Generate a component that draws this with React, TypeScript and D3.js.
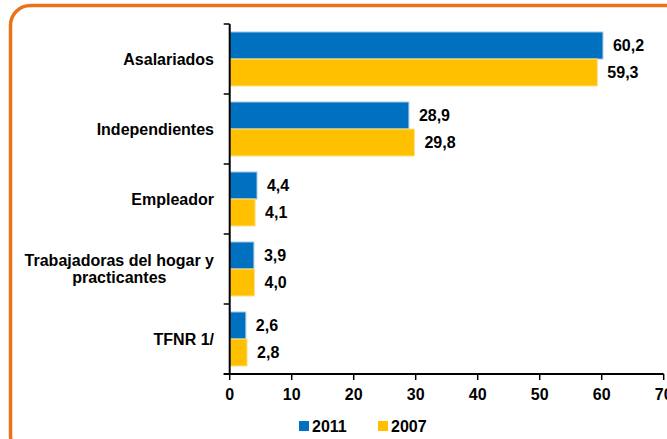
import * as d3 from 'd3';
import { useRef, useEffect } from 'react';

const categories = ['Asalariados', 'Independientes', 'Empleador', 'Trabajadoras del hogar y\npracticantes', 'TFNR 1/'];
const series = ['2011', '2007'];
const values2011 = [60.2, 28.9, 4.4, 3.9, 2.6];
const values2007 = [59.3, 29.8, 4.1, 4.0, 2.8];
const xTicks = [0, 10, 20, 30, 40, 50, 60, 70];

const colors = { '2011': '#0070C0', '2007': '#FFC000' };
const edges = { '2011': '#9fc4ea', '2007': '#ffe08c' };

export default function App() {
  const ref = useRef<SVGSVGElement>(null);

  useEffect(() => {
    const width = 667;
    const height = 439;
    const font = '"Liberation Sans", Arial, sans-serif';

    const svg = d3.select(ref.current)
      .attr('width', width)
      .attr('height', height);
    svg.selectAll('*').remove();

    // orange rounded frame, running off the right and bottom edges
    svg.append('rect')
      .attr('x', 10.5)
      .attr('y', 5.5)
      .attr('width', 700)
      .attr('height', 450)
      .attr('rx', 20)
      .attr('fill', 'white')
      .attr('stroke', '#E8731A')
      .attr('stroke-width', 3.5);

    const x = d3.scaleLinear().domain([0, 70]).range([229.7, 663.7]);
    const y = d3.scaleBand().domain(categories).range([24, 374]).padding(0);
    const ySub = d3.scaleBand().domain(series).range([8, y.bandwidth() - 8]).padding(0);

    const rows = categories.map((c, i) => ({ cat: c, '2011': values2011[i], '2007': values2007[i] }));

    const g = svg.append('g');

    // bars
    series.forEach(s => {
      g.selectAll(`rect.b${s}`)
        .data(rows)
        .enter().append('rect')
        .attr('x', x(0))
        .attr('y', d => y(d.cat)! + ySub(s)!)
        .attr('width', d => x(d[s]) - x(0))
        .attr('height', ySub.bandwidth())
        .attr('fill', colors[s])
        .attr('stroke', edges[s])
        .attr('stroke-width', 1);

      g.selectAll(`text.l${s}`)
        .data(rows)
        .enter().append('text')
        .attr('x', d => x(d[s]) + 10)
        .attr('y', d => y(d.cat)! + ySub(s)! + ySub.bandwidth() / 2)
        .attr('dy', '0.36em')
        .attr('font-family', font)
        .attr('font-weight', 'bold')
        .attr('font-size', 16)
        .attr('fill', '#000')
        .text(d => d3.format('.1f')(d[s]).replace('.', ','));
    });

    // y axis line and ticks at band edges
    g.append('line')
      .attr('x1', x(0)).attr('x2', x(0))
      .attr('y1', 24).attr('y2', 374)
      .attr('stroke', 'black').attr('stroke-width', 2);
    const edgesY = categories.map(c => y(c)!).concat([374]);
    g.selectAll('line.ytick')
      .data(edgesY)
      .enter().append('line')
      .attr('x1', x(0) - 6).attr('x2', x(0))
      .attr('y1', d => d).attr('y2', d => d)
      .attr('stroke', 'black').attr('stroke-width', 1.5);

    // category labels: right aligned block, lines centred within it
    const labelRight = 214;
    categories.forEach(c => {
      const lines = c.split('\n');
      const cy = y(c)! + y.bandwidth() / 2;
      const t = g.append('text')
        .attr('x', labelRight)
        .attr('text-anchor', 'end')
        .attr('font-family', font)
        .attr('font-weight', 'bold')
        .attr('font-size', 16)
        .attr('fill', '#000');
      const spans = lines.map((ln, i) =>
        t.append('tspan')
          .attr('x', labelRight)
          .attr('y', cy + (i - (lines.length - 1) / 2) * 17)
          .attr('dy', '0.36em')
          .text(ln));
      if (lines.length > 1) {
        const w = d3.max(spans, sp => (sp.node() as SVGTSpanElement).getComputedTextLength()) || 0;
        t.attr('text-anchor', 'middle');
        spans.forEach(sp => sp.attr('x', labelRight - w / 2));
      }
    });

    // x axis
    g.append('line')
      .attr('x1', x(0) - 6).attr('x2', x(70))
      .attr('y1', 374).attr('y2', 374)
      .attr('stroke', 'black').attr('stroke-width', 2);
    g.selectAll('line.xtick')
      .data(xTicks)
      .enter().append('line')
      .attr('x1', d => x(d)).attr('x2', d => x(d))
      .attr('y1', 374).attr('y2', 380)
      .attr('stroke', 'black').attr('stroke-width', 1.5);
    g.selectAll('text.xtick')
      .data(xTicks)
      .enter().append('text')
      .attr('x', d => x(d))
      .attr('y', 394)
      .attr('dy', '0.36em')
      .attr('text-anchor', 'middle')
      .attr('font-family', font)
      .attr('font-weight', 'bold')
      .attr('font-size', 16)
      .attr('fill', '#000')
      .text(d => d);

    // legend
    const legendX = [299, 378];
    series.forEach((s, i) => {
      g.append('rect')
        .attr('x', legendX[i]).attr('y', 421)
        .attr('width', 10).attr('height', 10)
        .attr('fill', colors[s]);
      g.append('text')
        .attr('x', legendX[i] + 13)
        .attr('y', 426)
        .attr('dy', '0.36em')
        .attr('font-family', font)
        .attr('font-weight', 'bold')
        .attr('font-size', 16)
        .attr('fill', '#000')
        .text(s);
    });
  }, []);

  return (
    <svg ref={ref} style={{ position: 'absolute', left: 0, top: 0, display: 'block' }}></svg>
  );
}
